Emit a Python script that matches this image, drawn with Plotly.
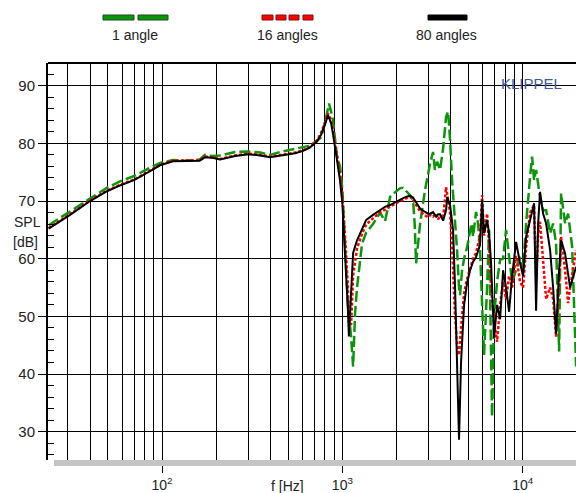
import plotly.graph_objects as go

# ---------------- data ----------------
freq_80 = [23.5, 30.9, 39.9, 49.5, 58.5, 70.8, 85.8, 97.5, 115, 134,
           162, 173, 190, 210, 254, 300, 350, 397, 451, 500,
           547, 606, 662, 723, 762, 800, 832, 866, 887, 934,
           971, 1000, 1034, 1074, 1087, 1118, 1147, 1206, 1286, 1353,
           1480, 1618, 1725, 1839, 1960, 2085, 2171, 2288, 2375, 2465,
           2563, 2698, 2874, 2988, 3065, 3184, 3309, 3395, 3483, 3619,
           3760, 3812, 3956, 4059, 4111, 4217, 4326, 4436, 4551, 4731,
           4917, 5109, 5308, 5514, 5802, 5957, 6108, 6346, 6510, 6679,
           6940, 7211, 7493, 7786, 8087, 8405, 8733, 9192, 9673, 10050,
           10445, 10990, 11566, 11866, 12174, 12480, 12982, 13488, 14191, 14745,
           15317, 15920, 16330, 17185, 17857, 18320, 19780]
spl_80 = [65.2, 67.6, 70.0, 71.7, 72.7, 73.7, 75.2, 76.2, 76.9, 76.9,
          77.0, 77.6, 77.5, 77.2, 77.8, 78.1, 77.9, 77.6, 77.9, 78.1,
          78.3, 78.7, 79.3, 80.3, 81.5, 83.2, 84.9, 83.5, 81.7, 77.1,
          73.5, 69.6, 61.5, 51.0, 46.5, 54.0, 61.0, 63.2, 65.0, 66.7,
          67.6, 68.5, 69.0, 69.3, 69.8, 70.2, 70.5, 70.8, 70.9, 70.6,
          69.8, 68.7, 68.1, 67.8, 67.8, 68.1, 67.3, 67.7, 67.7, 66.6,
          68.4, 70.7, 69.3, 66.7, 65.0, 55.0, 42.0, 28.6, 42.0, 52.0,
          55.8, 58.0, 59.5, 60.3, 62.4, 70.2, 64.4, 66.7, 64.4, 59.2,
          46.3, 52.0, 49.5, 58.0, 55.0, 50.8, 57.0, 62.9, 59.2, 57.0,
          63.8, 66.7, 69.6, 51.0, 66.0, 71.6, 67.8, 66.1, 61.5, 55.0,
          47.0, 58.0, 63.2, 60.9, 57.2, 55.0, 58.6]

freq_16 = freq_80
spl_16 = [65.3, 67.7, 70.1, 71.8, 72.8, 73.8, 75.3, 76.3, 77.0, 77.0,
          77.1, 77.7, 77.6, 77.3, 77.9, 78.2, 78.0, 77.7, 78.0, 78.2,
          78.4, 78.8, 79.4, 80.5, 81.8, 83.6, 85.2, 84.0, 82.3, 78.0,
          74.5, 71.0, 64.0, 55.0, 49.0, 48.5, 57.0, 61.8, 64.3, 65.9,
          67.0, 68.0, 68.5, 69.0, 69.6, 70.0, 70.2, 70.6, 70.8, 70.2,
          69.3, 68.2, 67.5, 67.2, 67.6, 67.3, 67.8, 66.8, 67.5, 67.0,
          72.4, 71.0, 68.0, 62.0, 57.0, 50.0, 45.0, 43.3, 48.0, 54.0,
          56.5, 58.5, 60.0, 61.0, 64.0, 71.0, 64.0, 67.8, 62.6, 55.0,
          49.0, 45.6, 52.0, 56.0, 53.0, 57.0, 55.0, 60.5, 56.0, 55.0,
          62.0, 68.0, 69.3, 56.0, 64.0, 66.4, 60.0, 53.0, 55.0, 53.0,
          46.5, 55.0, 63.8, 58.0, 52.3, 55.0, 61.5]

freq_1 = [23.5, 30.9, 39.9, 49.5, 58.5, 70.8, 85.8, 97.5, 115, 134,
          162, 173, 190, 210, 254, 300, 350, 397, 451, 500,
          547, 606, 662, 723, 762, 800, 843, 866, 887, 934,
          971, 1000, 1034, 1074, 1118, 1147, 1176, 1206, 1286, 1353,
          1480, 1618, 1725, 1839, 1960, 2085, 2171, 2288, 2375, 2465,
          2518, 2563, 2698, 2874, 3065, 3184, 3262, 3353, 3483, 3619,
          3760, 3858, 3956, 4059, 4217, 4326, 4436, 4494, 4611, 4731,
          4917, 5109, 5200, 5308, 5514, 5657, 5802, 5957, 6108, 6346,
          6510, 6763, 6940, 7211, 7493, 7786, 8087, 8405, 8733, 9192,
          9673, 10050, 10445, 10990, 11270, 11566, 11866, 12480, 12982, 13488,
          14191, 14745, 15317, 15920, 16330, 17185, 17857, 18794, 19780]
spl_1 = [65.8, 68.2, 70.4, 72.3, 73.4, 74.4, 75.8, 76.6, 77.1, 77.0,
         77.2, 78.0, 77.8, 77.9, 78.5, 78.6, 78.4, 78.0, 78.5, 78.8,
         79.0, 79.3, 79.6, 80.5, 81.0, 83.5, 86.9, 85.5, 84.0, 77.7,
         76.0, 72.0, 62.0, 52.0, 46.5, 41.3, 50.5, 55.0, 62.6, 64.5,
         66.0, 68.0, 66.5, 70.7, 71.5, 72.2, 72.3, 71.6, 71.0, 70.2,
         66.0, 59.2, 66.1, 71.9, 76.5, 78.5, 75.4, 76.8, 75.4, 79.1,
         84.6, 85.5, 80.6, 73.6, 67.3, 61.5, 55.0, 53.7, 58.0, 60.0,
         62.0, 65.0, 66.1, 63.8, 68.1, 66.1, 61.5, 52.0, 43.3, 55.0,
         65.0, 32.6, 50.0, 56.0, 59.8, 60.0, 65.0, 60.3, 56.0, 58.0,
         60.3, 58.0, 66.1, 74.2, 77.7, 73.6, 75.4, 70.7, 68.4, 68.4,
         64.4, 66.1, 62.6, 43.9, 71.3, 66.1, 67.8, 62.1, 41.3]

x_major = [100, 1000, 10000]
x_major_text = ["10<sup>2</sup>", "10<sup>3</sup>", "10<sup>4</sup>"]
x_minor = [30, 40, 50, 60, 70, 80, 90,
           200, 300, 400, 500, 600, 700, 800, 900,
           2000, 3000, 4000, 5000, 6000, 7000, 8000, 9000]
y_major = [30, 40, 50, 60, 70, 80, 90]
series_names = ["1 angle", "16 angles", "80 angles"]

GREEN = "#0a960a"
RED = "#ff0000"
BLACK = "#000000"

# ---------------- layout geometry (pixels) ----------------
W, H = 576, 493
ML, MR, MT, MB = 48, 0, 63, 33
PW, PH = W - ML - MR, H - MT - MB


def px(x):
    return (x - ML) / PW


def py(y):
    return (H - MB - y) / PH


fig = go.Figure()
fig.add_trace(go.Scatter(x=freq_1, y=spl_1, mode="lines", name=series_names[0],
                         line=dict(color=GREEN, width=2.5, dash="11px,4px")))
fig.add_trace(go.Scatter(x=freq_16, y=spl_16, mode="lines", name=series_names[1],
                         line=dict(color=RED, width=2.5, dash="3px,2px")))
fig.add_trace(go.Scatter(x=freq_80, y=spl_80, mode="lines", name=series_names[2],
                         line=dict(color=BLACK, width=2)))

font_family = "Liberation Sans, Arial, Helvetica, sans-serif"

fig.update_layout(
    width=W, height=H,
    margin=dict(l=ML, r=MR, t=MT, b=MB, pad=0),
    paper_bgcolor="white", plot_bgcolor="white",
    showlegend=False,
    font=dict(family=font_family, size=14, color="#222222"),
)

fig.update_xaxes(
    type="log", range=[1.3677, 4.2956],
    tickmode="array", tickvals=x_major, ticktext=x_major_text,
    tickfont=dict(size=14, color="#222222"),
    showgrid=True, gridcolor="#000000", gridwidth=1,
    ticks="outside", ticklen=12, tickcolor="#000000", tickwidth=1,
    showline=False, zeroline=False,
    minor=dict(tickmode="array", tickvals=x_minor, showgrid=True,
               gridcolor="#000000", gridwidth=1, ticks=""),
)
fig.update_yaxes(
    range=[25.1, 93.93],
    tickmode="array", tickvals=y_major,
    tickfont=dict(size=15, color="#222222"),
    showgrid=True, gridcolor="#000000", gridwidth=1,
    ticks="outside", ticklen=8, tickcolor="#000000", tickwidth=1,
    showline=True, linecolor="#000000", linewidth=2,
    zeroline=False,
    minor=dict(tick0=0, dtick=2, ticks="inside", ticklen=6,
               tickcolor="#000000", tickwidth=1, showgrid=False),
)

shapes = []
# top border
shapes.append(dict(type="line", xref="paper", yref="paper", x0=0, x1=1, y0=1, y1=1,
                   line=dict(color="#000000", width=2)))
# gray bottom band
shapes.append(dict(type="rect", xref="paper", yref="paper", x0=px(54), x1=1,
                   y0=py(466), y1=py(460), fillcolor="#c4c4c4",
                   line=dict(width=0), layer="above"))
# legend samples
for x0, x1 in [(103, 134), (138, 168)]:
    shapes.append(dict(type="rect", xref="paper", yref="paper", x0=px(x0), x1=px(x1),
                       y0=py(20), y1=py(15), fillcolor=GREEN,
                       line=dict(color="#1e4a1e", width=1)))
for x0, x1 in [(262, 273), (276, 286), (289, 299), (303, 313)]:
    shapes.append(dict(type="rect", xref="paper", yref="paper", x0=px(x0), x1=px(x1),
                       y0=py(20), y1=py(15), fillcolor=RED,
                       line=dict(color="#7a1010", width=1)))
shapes.append(dict(type="rect", xref="paper", yref="paper", x0=px(428), x1=px(467),
                   y0=py(20), y1=py(15), fillcolor=BLACK,
                   line=dict(color="#000000", width=1)))
fig.update_layout(shapes=shapes)

annotations = []
for name, cx in zip(series_names, [135, 287, 446]):
    annotations.append(dict(text=name, x=px(cx), y=py(35), xref="paper", yref="paper",
                            showarrow=False, xanchor="center", yanchor="middle",
                            font=dict(size=14, color="#222222")))
annotations.append(dict(text="SPL", x=px(12), y=py(222), xref="paper", yref="paper",
                        showarrow=False, xanchor="left", yanchor="middle",
                        font=dict(size=14, color="#222222")))
annotations.append(dict(text="[dB]", x=px(11), y=py(242), xref="paper", yref="paper",
                        showarrow=False, xanchor="left", yanchor="middle",
                        font=dict(size=14, color="#222222")))
annotations.append(dict(text="f [Hz]", x=px(287), y=py(486), xref="paper", yref="paper",
                        showarrow=False, xanchor="center", yanchor="middle",
                        font=dict(size=14, color="#222222")))
annotations.append(dict(text="KLIPPEL", x=px(531), y=py(83), xref="paper", yref="paper",
                        showarrow=False, xanchor="center", yanchor="middle",
                        font=dict(size=15, color="#3d5a9e")))
fig.update_layout(annotations=annotations)

fig.write_html("out.html")
